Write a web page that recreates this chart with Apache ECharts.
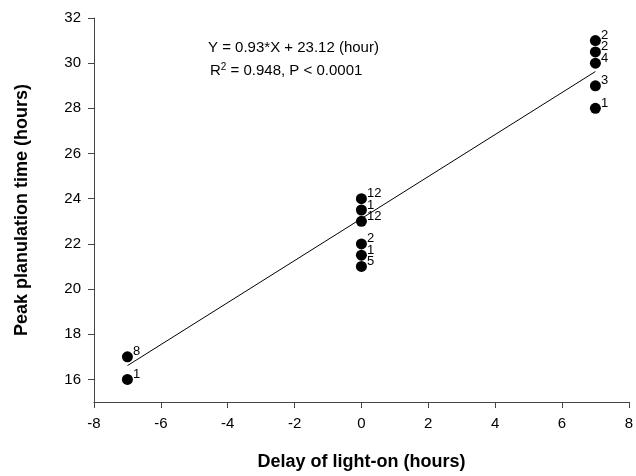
<!DOCTYPE html>
<html>
<head>
<meta charset="utf-8">
<script src="https://cdn.jsdelivr.net/npm/echarts@6/dist/echarts.min.js"></script>
<style>
  html, body { margin: 0; padding: 0; background: #fff; }
  #main { width: 636px; height: 476px; }
</style>
</head>
<body>
<div id="main"></div>
<script>
// delay of light-on (x), peak planulation time (y), number of colonies (n)
var delayX = [-7, -7, 0, 0, 0, 0, 0, 0, 7, 7, 7, 7, 7];
var peakY = [17, 16, 24, 23.5, 23, 22, 21.5, 21, 31, 30.5, 30, 29, 28];
var counts = ['8', '1', '12', '1', '12', '2', '1', '5', '2', '2', '4', '3', '1'];

var fitX = [-7, 7];
var fitY = [16.61, 29.63];

var xTicks = [-8, -6, -4, -2, 0, 2, 4, 6, 8];
var yTicks = [16, 18, 20, 22, 24, 26, 28, 30, 32];

var pts = [];
for (var i = 0; i < delayX.length; i++) {
    pts.push([delayX[i], peakY[i], counts[i]]);
}
var fit = [];
for (var j = 0; j < fitX.length; j++) {
    fit.push([fitX[j], fitY[j]]);
}

var myChart = echarts.init(document.getElementById('main'));

var axisCol = '#444';
var font = 'Arial, "Liberation Sans", sans-serif';

var option = {
    animation: false,
    grid: {
        left: 94,
        right: 4,
        top: 18,
        bottom: 72
    },
    xAxis: {
        type: 'value',
        min: -8,
        max: 8,
        interval: 2,
        name: 'Delay of light-on (hours)',
        nameLocation: 'middle',
        nameGap: 51,
        nameTextStyle: { fontSize: 18, fontWeight: 'bold', color: '#000', fontFamily: font },
        splitLine: { show: false },
        axisLine: { onZero: false, lineStyle: { color: axisCol, width: 1 } },
        axisTick: { length: 6, lineStyle: { color: axisCol } },
        axisLabel: { fontSize: 15, color: '#000', margin: 14, fontFamily: font }
    },
    yAxis: {
        type: 'value',
        min: 15,
        max: 32,
        name: 'Peak planulation time (hours)',
        nameLocation: 'middle',
        nameGap: 63,
        nameTextStyle: { fontSize: 18, fontWeight: 'bold', color: '#000', fontFamily: font },
        splitLine: { show: false },
        axisLine: { show: true, onZero: false, lineStyle: { color: axisCol, width: 1 } },
        axisTick: { show: true, length: 6, customValues: yTicks, lineStyle: { color: axisCol } },
        axisLabel: { fontSize: 15, color: '#000', margin: 13, customValues: yTicks, fontFamily: font }
    },
    graphic: [
        {
            type: 'text',
            left: 208,
            top: 40,
            style: { text: 'Y = 0.93*X + 23.12 (hour)', fontSize: 15, fill: '#000', fontFamily: font }
        },
        {
            type: 'text',
            left: 210,
            top: 62,
            style: {
                text: '{a|R}{s|2}{a| = 0.948, P < 0.0001}',
                fill: '#000',
                rich: {
                    a: { fontSize: 15, fontFamily: font, verticalAlign: 'bottom' },
                    s: { fontSize: 10, fontFamily: font, verticalAlign: 'top', padding: [0, 0, 6, 0] }
                }
            }
        }
    ],
    series: [
        {
            type: 'line',
            data: fit,
            symbol: 'none',
            lineStyle: { color: '#000', width: 1 },
            z: 1
        },
        {
            type: 'scatter',
            data: pts,
            symbolSize: 11,
            itemStyle: { color: '#000', opacity: 1 },
            label: {
                show: true,
                position: 'right',
                distance: 0,
                offset: [0, -5],
                fontSize: 13,
                color: '#000',
                fontFamily: font,
                formatter: function (p) { return p.data[2]; }
            },
            z: 2
        }
    ]
};

myChart.setOption(option);
</script>
</body>
</html>
